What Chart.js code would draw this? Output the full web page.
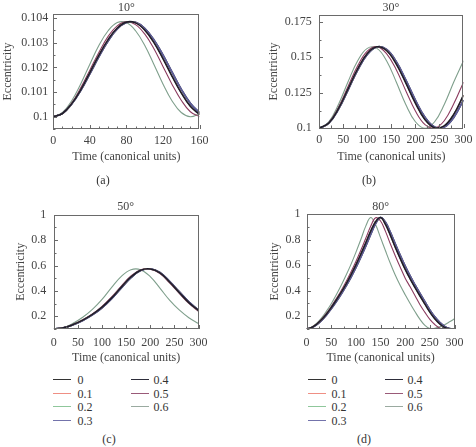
<!DOCTYPE html>
<html><head><meta charset="utf-8">
<script src="https://cdn.jsdelivr.net/npm/chart.js@4.4.1/dist/chart.umd.min.js"></script>
<style>
html,body{margin:0;padding:0;background:#fff;}
body{width:476px;height:447px;position:relative;overflow:hidden;}
canvas{position:absolute;}
.lab{position:absolute;font:12px "Liberation Serif",serif;color:#333;transform:translate(-50%,-50%);white-space:nowrap;}
.li{position:absolute;height:1px;}
.lt{position:absolute;font:12px "Liberation Serif",serif;color:#333;transform:translateY(-50%);white-space:nowrap;}
</style></head><body>
<canvas id="ca"></canvas><canvas id="cb"></canvas><canvas id="cc"></canvas><canvas id="cd"></canvas>
<script>
// ---------- data ----------
const seriesLabels = ['0','0.1','0.2','0.3','0.4','0.5','0.6'];
const seriesColors = ['#1d1d2b','#e8877c','#86c092','#5f5f9c','#24243a','#8c3c60','#7f9f8c'];
const legendColors = ['#333333','#ef8f84','#8fc79b','#7373ab','#2d2d3a','#9a5a78','#9aaaa0'];
const panelTitles = ['10°','30°','50°','80°'];

// (a) 10 deg
const timeA = [0,10,20,30,40,50,60,70,80,90,100,110,120,130,140,150,160];
const aDark  = [0.1,0.10013,0.10052,0.10109,0.10179,0.10250,0.10313,0.10360,0.10384,0.10381,0.10352,0.10302,0.10236,0.10164,0.10097,0.10042,0.10009];
const aDarkB = [0.1,0.10013,0.10050,0.10106,0.10174,0.10244,0.10307,0.10356,0.10382,0.10383,0.10359,0.10313,0.10251,0.10181,0.10112,0.10055,0.10016];
const aMaroon= [0.1,0.10014,0.10055,0.10117,0.10189,0.10262,0.10326,0.10369,0.10386,0.10374,0.10336,0.10277,0.10204,0.10131,0.10067,0.10020,0.10000];
const aGreen = [0.1,0.10017,0.10064,0.10133,0.10213,0.10290,0.10349,0.10382,0.10382,0.10349,0.10290,0.10213,0.10133,0.10064,0.10017,0.10000,0.10012];
const xTicksA = [0,40,80,120,160];
const yTicksA = [0.1,0.101,0.102,0.103,0.104];

// (b) 30 deg
const timeB = [0,20,40,60,80,100,120,140,160,180,200,220,240,260,280,300];
const bDark  = [0.1,0.1037,0.1138,0.1277,0.1418,0.1527,0.1574,0.1548,0.1454,0.1320,0.1177,0.1061,0.1003,0.1017,0.1100,0.1233];
const bDarkB = [0.1,0.1036,0.1133,0.1269,0.1410,0.1520,0.1573,0.1555,0.1471,0.1341,0.1199,0.1078,0.1009,0.1009,0.1078,0.1199];
const bMaroon= [0.1,0.1040,0.1148,0.1295,0.1440,0.1543,0.1575,0.1526,0.1414,0.1265,0.1122,0.1026,0.1001,0.1053,0.1174,0.1325];
const bGreen = [0.1,0.1046,0.1168,0.1328,0.1476,0.1563,0.1563,0.1476,0.1328,0.1168,0.1046,0.1000,0.1046,0.1168,0.1328,0.1476];
const xTicksB = [0,50,100,150,200,250,300];
const yTicksB = [0.1,0.125,0.15,0.175];

// (c) 50 deg
const timeC = [0,20,40,60,80,100,120,140,160,180,200,220,240,260,280,300];
const cDark  = [0.100,0.110,0.135,0.170,0.215,0.272,0.345,0.430,0.510,0.563,0.573,0.542,0.470,0.388,0.308,0.245];
const cDarkB = [0.100,0.109,0.133,0.167,0.211,0.267,0.339,0.423,0.504,0.560,0.574,0.546,0.476,0.394,0.314,0.250];
const cMaroon= [0.100,0.111,0.137,0.173,0.219,0.278,0.352,0.438,0.517,0.566,0.571,0.537,0.463,0.381,0.301,0.239];
const cGreen = [0.100,0.111,0.145,0.192,0.254,0.333,0.428,0.515,0.567,0.567,0.512,0.422,0.327,0.250,0.189,0.143];
const xTicksC = [0,50,100,150,200,250,300];
const yTicksC = [0.2,0.4,0.6,0.8,1];

// (d) 80 deg
const timeD = [0,10,20,30,40,50,60,70,80,90,100,110,120,130,140,150,160,170,180,190,200,210,220,230,240,250,260,270,280,290,300];
const dDark  = [0.100,0.112,0.137,0.172,0.216,0.268,0.325,0.386,0.452,0.524,0.602,0.686,0.774,0.866,0.940,0.972,0.918,0.833,0.739,0.651,0.567,0.493,0.424,0.358,0.295,0.232,0.180,0.140,0.112,0.101,0.102];
const dDarkB = [0.100,0.110,0.133,0.166,0.208,0.258,0.313,0.372,0.436,0.505,0.580,0.662,0.748,0.840,0.925,0.972,0.935,0.856,0.765,0.676,0.592,0.515,0.445,0.378,0.313,0.250,0.195,0.152,0.120,0.104,0.101];
const dMaroon= [0.100,0.112,0.139,0.176,0.222,0.276,0.336,0.400,0.470,0.546,0.628,0.716,0.810,0.904,0.970,0.945,0.864,0.765,0.672,0.583,0.498,0.430,0.360,0.290,0.230,0.175,0.135,0.108,0.100,0.101,0.103];
const dGreen = [0.100,0.113,0.143,0.185,0.238,0.298,0.366,0.440,0.520,0.606,0.700,0.800,0.905,0.972,0.915,0.815,0.712,0.612,0.520,0.440,0.368,0.300,0.235,0.175,0.128,0.103,0.106,0.117,0.134,0.156,0.180];
const xTicksD = [0,50,100,150,200,250,300];
const yTicksD = [0.2,0.4,0.6,0.8,1];

// ---------- layout ----------
const FONT = '"Liberation Serif", serif';
const panels = [
  {id:'ca', time:timeA, series:[aDark,aDark,aDark,aDarkB,aDarkB,aMaroon,aGreen], xTicks:xTicksA, yTicks:yTicksA,
   xMax:160, yMin:0.0995, yMax:0.10417, xMinor:10, yMinor:0.0005,
   box:{l:1,t:0,w:212,h:170}, padT:14, yW:52.3, xH:41, padR:9.7, yPad:5, xPad:4.5, xTitleBot:5.8, titleY:6.5},
  {id:'cb', time:timeB, series:[bDark,bDark,bDark,bDarkB,bDarkB,bMaroon,bGreen], xTicks:xTicksB, yTicks:yTicksB,
   xMax:300, yMin:0.1, yMax:0.18, xMinor:25, yMinor:0.0125,
   box:{l:266.5,t:0,w:209.5,h:170}, padT:12.7, yW:52.2, xH:41.7, padR:7.7, yPad:7.5, xPad:4.5, xTitleBot:5.8, titleY:6.7},
  {id:'cc', time:timeC, series:[cDark,cDark,cDark,cDarkB,cDarkB,cMaroon,cGreen], xTicks:xTicksC, yTicks:yTicksC,
   xMax:300, yMin:0.1, yMax:1, xMinor:25, yMinor:0.1,
   box:{l:13.5,t:200,w:200,h:171.3}, padT:14, yW:39.8, xH:42, padR:10.4, yPad:7.5, xPad:6.5, xTitleBot:5.8, titleY:206.3},
  {id:'cd', time:timeD, series:[dDark,dDark,dDark,dDarkB,dDarkB,dMaroon,dGreen], xTicks:xTicksD, yTicks:yTicksD,
   xMax:300, yMin:0.1, yMax:1, xMinor:25, yMinor:0.1,
   box:{l:268.1,t:200,w:202,h:171.3}, padT:14, yW:38.6, xH:42, padR:12.3, yPad:6, xPad:6.5, xTitleBot:5.8, titleY:206}
];

const framePlugin = {
  id:'frame',
  afterDraw(chart, args, opts) {
    const {ctx, chartArea:a, scales:{x, y}} = chart;
    ctx.save();
    ctx.strokeStyle = '#6a6a6a';
    ctx.lineWidth = 1;
    ctx.strokeRect(Math.round(a.left)+0.5, Math.round(a.top)+0.5, Math.round(a.right-a.left)-1, Math.round(a.bottom-a.top)-1);
    ctx.beginPath();
    const b = Math.round(a.bottom), l = Math.round(a.left);
    for (let v = x.min; v <= x.max + 1e-9; v += opts.xMinor) {
      const major = opts.xTicks.some(t => Math.abs(t - v) < 1e-9);
      const px = Math.round(x.getPixelForValue(v)) + 0.5;
      ctx.moveTo(px, b); ctx.lineTo(px, b - (major ? 4 : 2.5));
    }
    const start = Math.ceil(y.min / opts.yMinor - 1e-6) * opts.yMinor;
    for (let v = start; v <= y.max + 1e-9; v += opts.yMinor) {
      const major = opts.yTicks.some(t => Math.abs(t - v) < opts.yMinor*1e-3);
      const py = Math.round(y.getPixelForValue(v)) + 0.5;
      ctx.moveTo(l, py); ctx.lineTo(l + (major ? 4 : 2.5), py);
    }
    ctx.stroke();
    ctx.restore();
  }
};

panels.forEach((p, pi) => {
  const cv = document.getElementById(p.id);
  cv.width = Math.round(p.box.w); cv.height = Math.round(p.box.h);
  cv.style.left = p.box.l + 'px'; cv.style.top = p.box.t + 'px';
  cv.style.width = Math.round(p.box.w) + 'px'; cv.style.height = Math.round(p.box.h) + 'px';
  const datasets = p.series.map((vals, i) => ({
    label: seriesLabels[i],
    data: p.time.map((t, k) => ({x: t, y: vals[k]})),
    borderColor: seriesColors[i],
    borderWidth: (i === 0 || i === 3 || i === 4) ? 1.6 : 1.1,
    pointRadius: 0,
    tension: 0.4,
    fill: false
  }));
  const chart = new Chart(cv, {
    type: 'line',
    data: {datasets},
    plugins: [framePlugin],
    options: {
      responsive: false, animation: false, devicePixelRatio: 1,
      layout: {padding: {left: 0, right: p.padR, top: p.padT, bottom: 0}},
      plugins: {
        legend: {display: false}, tooltip: {enabled: false}, title: {display: false},
        frame: {xMinor: p.xMinor, yMinor: p.yMinor, xTicks: p.xTicks, yTicks: p.yTicks}
      },
      scales: {
        x: {
          type: 'linear', min: 0, max: p.xMax,
          grid: {display: false, drawTicks: false}, border: {display: false},
          afterBuildTicks: s => { s.ticks = p.xTicks.map(v => ({value: v})); },
          afterFit: s => { s.height = p.xH; },
          ticks: {padding: p.xPad, color: '#444', font: {family: FONT, size: 12}, maxRotation: 0, autoSkip: false,
                  callback: v => String(v)},
          title: {display: true, text: 'Time (canonical units)', color: '#444',
                  font: {family: FONT, size: 12}, padding: {top: 0, bottom: p.xTitleBot}}
        },
        y: {
          type: 'linear', min: p.yMin, max: p.yMax,
          grid: {display: false, drawTicks: false}, border: {display: false},
          afterBuildTicks: s => { s.ticks = p.yTicks.map(v => ({value: v})); },
          afterFit: s => { s.width = p.yW; },
          ticks: {padding: p.yPad, color: '#444', font: {family: FONT, size: 12}, autoSkip: false,
                  callback: v => String(v)},
          title: {display: true, text: 'Eccentricity', color: '#444',
                  font: {family: FONT, size: 12}, padding: {top: 0, bottom: 0}}
        }
      }
    }
  });
  // panel title centred over the plot area
  const a = chart.chartArea;
  const t = document.createElement('div'); t.className = 'lab'; t.textContent = panelTitles[pi];
  t.style.color = '#444';
  t.style.left = (p.box.l + (a.left + a.right) / 2) + 'px'; t.style.top = p.titleY + 'px';
  document.body.appendChild(t);
});

// ---------- sub labels ----------
const subLabels = [['(a)',103,180],['(b)',369,180],['(c)',109,439],['(d)',364,439]];
subLabels.forEach(([t,x,y]) => {
  const d = document.createElement('div'); d.className = 'lab'; d.textContent = t;
  d.style.left = x + 'px'; d.style.top = y + 'px'; document.body.appendChild(d);
});

// ---------- legends ----------
const legendRows = [379, 393, 406, 420];
const legendBoxes = [
  {cols: [{lx: 53, lw: 18, tx: 77.5}, {lx: 131, lw: 18, tx: 153.5}]},
  {cols: [{lx: 308, lw: 18, tx: 331.5}, {lx: 385, lw: 18, tx: 407.5}]}
];
legendBoxes.forEach(lb => {
  seriesLabels.forEach((lab, i) => {
    const col = i < 4 ? lb.cols[0] : lb.cols[1];
    const row = i < 4 ? i : i - 4;
    const y = legendRows[row];
    const ln = document.createElement('div'); ln.className = 'li';
    ln.style.left = col.lx + 'px'; ln.style.width = col.lw + 'px'; ln.style.top = y + 'px';
    ln.style.background = legendColors[i];
    document.body.appendChild(ln);
    const tx = document.createElement('div'); tx.className = 'lt'; tx.textContent = lab;
    tx.style.left = col.tx + 'px'; tx.style.top = (y + 0.5) + 'px';
    document.body.appendChild(tx);
  });
});
</script>
</body></html>
